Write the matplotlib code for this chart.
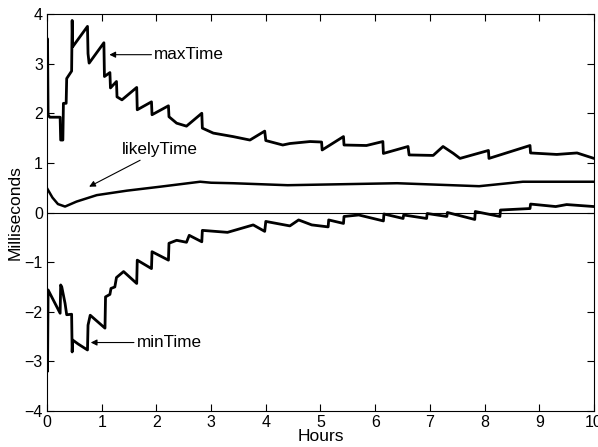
import numpy as np
import matplotlib
matplotlib.use("Agg")
from matplotlib import pyplot as plt

plt.rcParams['font.family'] = ['Liberation Sans', 'DejaVu Sans']

# breakpoints (hours, milliseconds)
max_h = [0.0, 0.01, 0.02, 0.05, 0.24, 0.25, 0.29, 0.30, 0.35, 0.36, 0.45, 0.46, 0.47, 0.74, 0.75, 0.77,
         1.04, 1.05, 1.15, 1.16, 1.27, 1.28, 1.37, 1.64, 1.65, 1.91, 1.92, 2.22, 2.23, 2.37, 2.55, 2.83,
         2.84, 3.04, 3.4, 3.71, 3.98, 4.0, 4.31, 4.44, 4.81, 5.02, 5.03, 5.42, 5.43, 5.84, 6.14, 6.15,
         6.6, 6.62, 7.06, 7.24, 7.43, 7.55, 8.07, 8.08, 8.83, 8.84, 9.32, 9.69, 10.0]
max_v = [3.45, 3.5, 1.97, 1.92, 1.92, 1.46, 1.46, 2.2, 2.2, 2.7, 2.85, 3.87, 3.34, 3.75, 3.2, 3.01,
         3.42, 2.74, 2.82, 2.51, 2.64, 2.33, 2.27, 2.52, 2.07, 2.23, 1.97, 2.15, 1.93, 1.80, 1.74, 2.0,
         1.70, 1.6, 1.53, 1.46, 1.64, 1.45, 1.36, 1.39, 1.43, 1.42, 1.26, 1.53, 1.36, 1.35, 1.43, 1.19,
         1.33, 1.16, 1.15, 1.33, 1.19, 1.09, 1.25, 1.09, 1.35, 1.2, 1.17, 1.2, 1.09]

likely_h = [0.0, 0.1, 0.2, 0.33, 0.54, 0.91, 1.46, 2.07, 2.8, 3.0, 3.4, 4.4, 6.4, 7.9, 8.7, 10.0]
likely_v = [0.49, 0.3, 0.17, 0.12, 0.22, 0.35, 0.44, 0.52, 0.62, 0.6, 0.59, 0.55, 0.59, 0.53, 0.62, 0.62]

min_h = [0.0, 0.01, 0.02, 0.24, 0.25, 0.27, 0.33, 0.36, 0.45, 0.46, 0.47, 0.57, 0.74, 0.75, 0.79,
         1.06, 1.07, 1.15, 1.17, 1.24, 1.27, 1.4, 1.64, 1.65, 1.91, 1.92, 2.22, 2.23, 2.37, 2.55,
         2.6, 2.83, 2.84, 3.3, 3.77, 3.98, 4.0, 4.44, 4.6, 4.84, 5.14, 5.15, 5.42, 5.43, 5.7, 6.15,
         6.16, 6.51, 6.52, 6.94, 6.95, 7.31, 7.32, 7.82, 7.83, 8.28, 8.29, 8.83, 8.84, 9.3, 9.5, 10.0]
min_v = [-3.0, -3.2, -1.56, -2.03, -1.46, -1.5, -1.83, -2.06, -2.05, -2.81, -2.57, -2.65, -2.77, -2.27, -2.07,
         -2.33, -1.70, -1.65, -1.53, -1.5, -1.31, -1.19, -1.43, -0.96, -1.13, -0.79, -0.96, -0.62, -0.56, -0.6,
         -0.46, -0.59, -0.36, -0.4, -0.25, -0.38, -0.18, -0.27, -0.15, -0.25, -0.29, -0.15, -0.22, -0.08, -0.05, -0.17,
         -0.03, -0.12, -0.05, -0.12, -0.02, -0.08, 0.0, -0.14, 0.02, -0.08, 0.05, 0.08, 0.17, 0.12, 0.16, 0.12]

fig = plt.figure(figsize=(5.98, 4.47), dpi=100)
ax = fig.add_axes([0.0786, 0.0805, 0.9147, 0.8882])

ax.axhline(0, color="black", lw=0.8)
ax.plot(max_h, max_v, color="black", lw=2)
ax.plot(likely_h, likely_v, color="black", lw=1.8)
ax.plot(min_h, min_v, color="black", lw=2)

arrow = dict(arrowstyle="-|>", color="black", lw=0.8, mutation_scale=9, shrinkA=0, shrinkB=0)
ax.annotate("maxTime", xy=(1.14, 3.18), xytext=(1.96, 3.18), fontsize=12.3, va="center", arrowprops=arrow)
ax.annotate("likelyTime", xy=(0.77, 0.52), xytext=(1.37, 1.26), fontsize=12.3, va="center", arrowprops=arrow)
ax.annotate("minTime", xy=(0.80, -2.62), xytext=(1.64, -2.62), fontsize=12.3, va="center", arrowprops=arrow)

ax.set_xlim(0, 10)
ax.set_ylim(-4, 4)
ax.set_xticks(range(0, 11))
ax.set_yticks(range(-4, 5))
ax.tick_params(direction="in", top=True, right=True, length=5, labelsize=11.5, pad=3)
ax.set_xlabel("Hours", fontsize=12.5, labelpad=-1)
ax.set_ylabel("Milliseconds", fontsize=12.5, labelpad=1)

fig.savefig("out.png", dpi=100)
